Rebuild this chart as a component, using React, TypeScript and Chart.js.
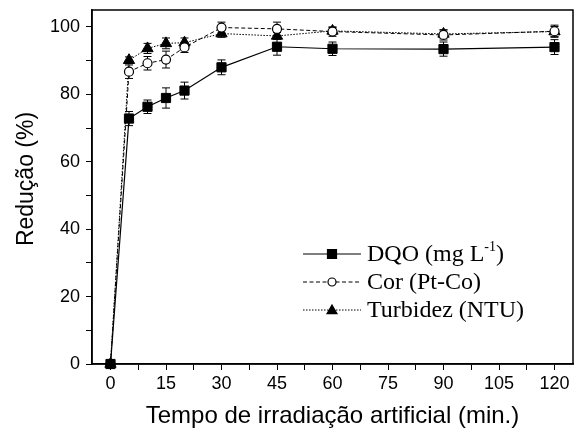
import React, { useEffect, useRef } from "react";
import { Chart, registerables } from "chart.js";

Chart.register(...registerables);

const times = [0, 5, 10, 15, 20, 30, 45, 60, 90, 120];
const dqo = [0, 72.8, 76.3, 78.9, 81.1, 88.0, 94.1, 93.5, 93.4, 94.0];
const dqoErr = [0, 2.1, 2.0, 3.0, 2.5, 2.2, 2.5, 2.0, 2.1, 2.2];
const cor = [0, 86.7, 89.2, 90.3, 93.9, 99.8, 99.4, 98.6, 97.6, 98.7];
const corErr = [0, 2.0, 2.0, 2.5, 1.5, 1.6, 2.0, 1.4, 1.5, 1.8];
const turb = [0, 90.1, 93.6, 95.1, 95.3, 98.0, 97.3, 98.8, 97.9, 98.6];
const turbErr = [0, 1.0, 1.5, 1.6, 1.4, 1.1, 1.0, 1.0, 1.2, 1.5];

const seriesLabels = ["DQO (mg L", "Cor (Pt-Co)", "Turbidez (NTU)"];
const xTicks = [0, 7.5, 15, 22.5, 30, 37.5, 45, 52.5, 60, 67.5, 75, 82.5, 90, 97.5, 105, 112.5, 120];
const yTicks = [0, 10, 20, 30, 40, 50, 60, 70, 80, 90, 100];
const xTitle = "Tempo de irradiação artificial (min.)";
const yTitle = "Redução (%)";

const SANS = "'Liberation Sans', Arial, sans-serif";
const SERIF = "'Liberation Serif', 'Times New Roman', serif";

const errors = [dqoErr, corErr, turbErr];

function drawMarker(ctx: CanvasRenderingContext2D, style: string, x: number, y: number, r: number, fill: string) {
  ctx.save();
  ctx.setLineDash([]);
  ctx.lineWidth = 1.2;
  ctx.strokeStyle = "#000";
  ctx.fillStyle = fill;
  ctx.beginPath();
  if (style === "rect") {
    ctx.rect(x - r, y - r, 2 * r, 2 * r);
  } else if (style === "circle") {
    ctx.arc(x, y, r, 0, Math.PI * 2);
  } else {
    ctx.moveTo(x, y - r * 1.1);
    ctx.lineTo(x + r * 1.1, y + r * 0.8);
    ctx.lineTo(x - r * 1.1, y + r * 0.8);
    ctx.closePath();
  }
  ctx.fill();
  ctx.stroke();
  ctx.restore();
}

const errorBarPlugin = {
  id: "errorBars",
  beforeDatasetsDraw(chart: any) {
    const ctx = chart.ctx;
    const xs = chart.scales.x;
    const ys = chart.scales.y;
    ctx.save();
    ctx.strokeStyle = "#000";
    ctx.lineWidth = 1;
    ctx.setLineDash([]);
    chart.data.datasets.forEach((ds: any, i: number) => {
      const err = errors[i];
      ds.data.forEach((p: any, j: number) => {
        const e = err[j];
        if (!e) return;
        const x = xs.getPixelForValue(p.x);
        const y1 = ys.getPixelForValue(p.y - e);
        const y2 = ys.getPixelForValue(p.y + e);
        ctx.beginPath();
        ctx.moveTo(x, y1);
        ctx.lineTo(x, y2);
        ctx.moveTo(x - 4, y1);
        ctx.lineTo(x + 4, y1);
        ctx.moveTo(x - 4, y2);
        ctx.lineTo(x + 4, y2);
        ctx.stroke();
      });
    });
    ctx.restore();
  },
};

const framePlugin = {
  id: "frame",
  afterDraw(chart: any) {
    const { ctx, chartArea } = chart;
    ctx.save();
    ctx.strokeStyle = "#000";
    ctx.lineWidth = 1.5;
    ctx.setLineDash([]);
    ctx.strokeRect(chartArea.left, chartArea.top, chartArea.right - chartArea.left, chartArea.bottom - chartArea.top);
    // y-axis title
    ctx.fillStyle = "#000";
    ctx.font = `23px ${SANS}`;
    ctx.textAlign = "center";
    ctx.textBaseline = "middle";
    ctx.translate(27, 179);
    ctx.rotate(-Math.PI / 2);
    ctx.fillText(yTitle, 0, 0);
    ctx.restore();
  },
};

const legendPlugin = {
  id: "customLegend",
  afterDraw(chart: any) {
    const ctx = chart.ctx;
    const x0 = 303;
    const x1 = 361;
    const textX = 367;
    const rows = [254, 282, 310];
    const styles = ["rect", "circle", "triangle"];
    const fills = ["#000", "#fff", "#000"];
    chart.data.datasets.forEach((ds: any, i: number) => {
      const y = rows[i];
      ctx.save();
      ctx.strokeStyle = "#000";
      ctx.lineWidth = ds.borderWidth;
      ctx.setLineDash(ds.borderDash || []);
      ctx.beginPath();
      ctx.moveTo(x0, y);
      ctx.lineTo(x1, y);
      ctx.stroke();
      ctx.restore();
      drawMarker(ctx, styles[i], (x0 + x1) / 2, y, styles[i] === "circle" ? 4 : 4.5, fills[i]);
      ctx.save();
      ctx.fillStyle = "#000";
      ctx.textBaseline = "middle";
      ctx.textAlign = "left";
      ctx.font = `24px ${SERIF}`;
      ctx.fillText(seriesLabels[i], textX, y + 1);
      if (i === 0) {
        const w = ctx.measureText(seriesLabels[i]).width;
        ctx.font = `14px ${SERIF}`;
        ctx.fillText("-1", textX + w, y - 7);
        const w2 = ctx.measureText("-1").width;
        ctx.font = `24px ${SERIF}`;
        ctx.fillText(")", textX + w + w2, y + 1);
      }
      ctx.restore();
    });
  },
};

export default function App() {
  const ref = useRef<HTMLCanvasElement | null>(null);
  useEffect(() => {
    if (!ref.current) return;
    const mk = (vals: number[]) => times.map((t, i) => ({ x: t, y: vals[i] }));
    const chart = new Chart(ref.current, {
      type: "line",
      data: {
        datasets: [
          {
            label: seriesLabels[0],
            data: mk(dqo),
            borderColor: "#000",
            backgroundColor: "#000",
            borderWidth: 1.2,
            pointStyle: "rect",
            pointRadius: 6.5,
            pointBorderColor: "#000",
            pointBackgroundColor: "#000",
            pointBorderWidth: 1,
            tension: 0,
            clip: false as any,
          },
          {
            label: seriesLabels[1],
            data: mk(cor),
            borderColor: "#000",
            backgroundColor: "#fff",
            borderWidth: 1,
            borderDash: [4, 2.5],
            pointStyle: "circle",
            pointRadius: 4.5,
            pointBorderColor: "#000",
            pointBackgroundColor: "#fff",
            pointBorderWidth: 1.2,
            tension: 0,
            clip: false as any,
          },
          {
            label: seriesLabels[2],
            data: mk(turb),
            borderColor: "#000",
            backgroundColor: "#000",
            borderWidth: 1,
            borderDash: [1.5, 1.5],
            pointStyle: "triangle",
            pointRadius: 6.5,
            pointBorderColor: "#000",
            pointBackgroundColor: "#000",
            pointBorderWidth: 1,
            tension: 0,
            clip: false as any,
          },
        ],
      },
      options: {
        animation: false,
        responsive: false,
        devicePixelRatio: 1,
        layout: { padding: { left: 0, right: 8, top: 10, bottom: 0 } },
        plugins: { legend: { display: false }, tooltip: { enabled: false } },
        scales: {
          x: {
            type: "linear",
            min: -5,
            max: 125,
            afterBuildTicks: (s: any) => {
              s.ticks = xTicks.map((v) => ({ value: v }));
            },
            afterFit: (s: any) => {
              s.height = 70;
              s.paddingLeft = 0;
              s.paddingRight = 0;
            },
            ticks: {
              autoSkip: false,
              maxRotation: 0,
              color: "#000",
              padding: 3,
              font: { family: SANS, size: 18 },
              callback: (v: any) => (Number(v) % 15 === 0 ? String(v) : ""),
            },
            grid: { drawOnChartArea: false, drawTicks: true, tickLength: 6, color: "#000", lineWidth: 1 },
            border: { display: true, color: "#000", width: 1.5 },
            title: {
              display: true,
              text: xTitle,
              color: "#000",
              font: { family: SANS, size: 24 },
              padding: { top: 0, bottom: 3 },
            },
          },
          y: {
            type: "linear",
            min: 0,
            max: 105,
            afterBuildTicks: (s: any) => {
              s.ticks = yTicks.map((v) => ({ value: v }));
            },
            afterFit: (s: any) => {
              s.width = 92;
              s.paddingTop = 0;
              s.paddingBottom = 0;
            },
            ticks: {
              autoSkip: false,
              color: "#000",
              padding: 6,
              font: { family: SANS, size: 18 },
              callback: (v: any) => (Number(v) % 20 === 0 ? String(v) : ""),
            },
            grid: { drawOnChartArea: false, drawTicks: true, tickLength: 6, color: "#000", lineWidth: 1 },
            border: { display: true, color: "#000", width: 1.5 },
            title: { display: false },
          },
        },
      },
      plugins: [errorBarPlugin, framePlugin, legendPlugin],
    } as any);
    return () => chart.destroy();
  }, []);
  return (
    <div style={{ position: "fixed", left: 0, top: 0, width: 581, height: 434, background: "#fff" }}>
      <canvas ref={ref} width={581} height={434} style={{ display: "block" }} />
    </div>
  );
}
